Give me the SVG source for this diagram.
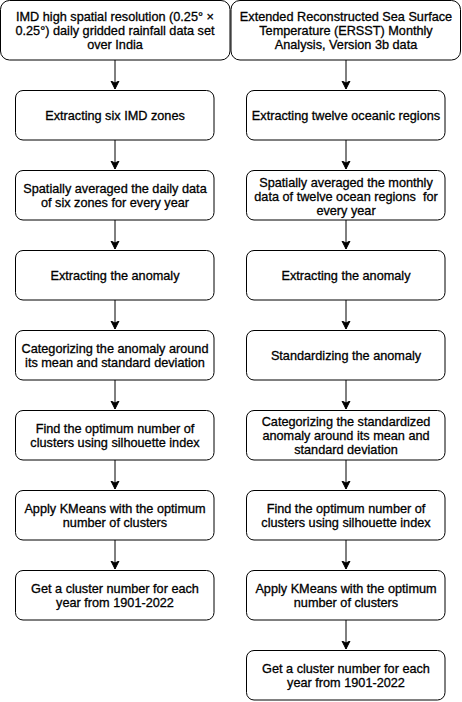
<svg xmlns="http://www.w3.org/2000/svg" width="462" height="702" viewBox="0 0 462 702">
<defs>
<style>
.box{fill:#ffffff;stroke:#000000;stroke-width:1}
.t{font-family:"Liberation Sans",Arial,Helvetica,sans-serif;font-size:12.7px;fill:#000000;stroke:#000000;stroke-width:0.3px;text-anchor:middle;white-space:pre}
.edge{stroke:#000000;stroke-width:1;fill:none}
</style>
<marker id="arr" markerUnits="userSpaceOnUse" markerWidth="10" markerHeight="10" viewBox="0 0 10 10" refX="8" refY="5" orient="auto">
<path d="M0,1 L8,5 L0,9 L2,5 Z" fill="#000000" stroke="#000000" stroke-width="1"/>
</marker>
</defs>
<rect width="462" height="702" fill="#ffffff"/>
<g id="connectors">
<line class="edge" x1="115" y1="60" x2="115" y2="89" marker-end="url(#arr)"/>
<line class="edge" x1="115" y1="140" x2="115" y2="169" marker-end="url(#arr)"/>
<line class="edge" x1="115" y1="220" x2="115" y2="249" marker-end="url(#arr)"/>
<line class="edge" x1="115" y1="300" x2="115" y2="329" marker-end="url(#arr)"/>
<line class="edge" x1="115" y1="380" x2="115" y2="409" marker-end="url(#arr)"/>
<line class="edge" x1="115" y1="460" x2="115" y2="489" marker-end="url(#arr)"/>
<line class="edge" x1="115" y1="540" x2="115" y2="569" marker-end="url(#arr)"/>
<line class="edge" x1="346" y1="60" x2="346" y2="89" marker-end="url(#arr)"/>
<line class="edge" x1="346" y1="140" x2="346" y2="169" marker-end="url(#arr)"/>
<line class="edge" x1="346" y1="220" x2="346" y2="249" marker-end="url(#arr)"/>
<line class="edge" x1="346" y1="300" x2="346" y2="329" marker-end="url(#arr)"/>
<line class="edge" x1="346" y1="380" x2="346" y2="409" marker-end="url(#arr)"/>
<line class="edge" x1="346" y1="460" x2="346" y2="489" marker-end="url(#arr)"/>
<line class="edge" x1="346" y1="540" x2="346" y2="569" marker-end="url(#arr)"/>
<line class="edge" x1="346" y1="620" x2="346" y2="649" marker-end="url(#arr)"/>
</g>
<g id="L1"><rect class="box" x="0.5" y="0.5" width="229.5" height="59.5" rx="9"/>
<text class="t" x="115" y="20.5">IMD high spatial resolution (0.25° ×</text>
<text class="t" x="115" y="34.5">0.25°) daily gridded rainfall data set</text>
<text class="t" x="115" y="48.5">over India</text></g>
<g id="L2"><rect class="box" x="15.5" y="90.5" width="198.5" height="49.5" rx="7.5"/>
<text class="t" x="115" y="119.5">Extracting six IMD zones</text></g>
<g id="L3"><rect class="box" x="15.5" y="170.5" width="198.5" height="49.5" rx="7.5"/>
<text class="t" x="115" y="192.5">Spatially averaged the daily data</text>
<text class="t" x="115" y="206.5">of six zones for every year</text></g>
<g id="L4"><rect class="box" x="15.5" y="250.5" width="198.5" height="49.5" rx="7.5"/>
<text class="t" x="115" y="279.5">Extracting the anomaly</text></g>
<g id="L5"><rect class="box" x="15.5" y="330.5" width="198.5" height="49.5" rx="7.5"/>
<text class="t" x="115" y="352.5">Categorizing the anomaly around</text>
<text class="t" x="115" y="366.5">its mean and standard deviation</text></g>
<g id="L6"><rect class="box" x="15.5" y="410.5" width="198.5" height="49.5" rx="7.5"/>
<text class="t" x="115" y="432.5">Find the optimum number of</text>
<text class="t" x="115" y="446.5">clusters using silhouette index</text></g>
<g id="L7"><rect class="box" x="15.5" y="490.5" width="198.5" height="49.5" rx="7.5"/>
<text class="t" x="115" y="512.5">Apply KMeans with the optimum</text>
<text class="t" x="115" y="526.5">number of clusters</text></g>
<g id="L8"><rect class="box" x="15.5" y="570.5" width="198.5" height="49.5" rx="7.5"/>
<text class="t" x="115" y="592.5">Get a cluster number for each</text>
<text class="t" x="115" y="606.5">year from 1901-2022</text></g>
<g id="R1"><rect class="box" x="231" y="0.5" width="229.5" height="59.5" rx="9"/>
<text class="t" x="346" y="20.5">Extended Reconstructed Sea Surface</text>
<text class="t" x="346" y="34.5">Temperature (ERSST) Monthly</text>
<text class="t" x="346" y="48.5">Analysis, Version 3b data</text></g>
<g id="R2"><rect class="box" x="246.5" y="90.5" width="198.5" height="49.5" rx="7.5"/>
<text class="t" x="346" y="119.5">Extracting twelve oceanic regions</text></g>
<g id="R3"><rect class="box" x="246.5" y="170.5" width="198.5" height="49.5" rx="7.5"/>
<text class="t" x="346" y="187">Spatially averaged the monthly</text>
<text class="t" x="346" y="201">data of twelve ocean regions  for</text>
<text class="t" x="346" y="215">every year</text></g>
<g id="R4"><rect class="box" x="246.5" y="250.5" width="198.5" height="49.5" rx="7.5"/>
<text class="t" x="346" y="279.5">Extracting the anomaly</text></g>
<g id="R5"><rect class="box" x="246.5" y="330.5" width="198.5" height="49.5" rx="7.5"/>
<text class="t" x="346" y="359.5">Standardizing the anomaly</text></g>
<g id="R6"><rect class="box" x="246.5" y="410.5" width="198.5" height="49.5" rx="7.5"/>
<text class="t" x="346" y="426">Categorizing the standardized</text>
<text class="t" x="346" y="440">anomaly around its mean and</text>
<text class="t" x="346" y="454">standard deviation</text></g>
<g id="R7"><rect class="box" x="246.5" y="490.5" width="198.5" height="49.5" rx="7.5"/>
<text class="t" x="346" y="512.5">Find the optimum number of</text>
<text class="t" x="346" y="526.5">clusters using silhouette index</text></g>
<g id="R8"><rect class="box" x="246.5" y="570.5" width="198.5" height="49.5" rx="7.5"/>
<text class="t" x="346" y="592.5">Apply KMeans with the optimum</text>
<text class="t" x="346" y="606.5">number of clusters</text></g>
<g id="R9"><rect class="box" x="246.5" y="650.5" width="198.5" height="49.5" rx="7.5"/>
<text class="t" x="346" y="672.5">Get a cluster number for each</text>
<text class="t" x="346" y="686.5">year from 1901-2022</text></g>
</svg>
